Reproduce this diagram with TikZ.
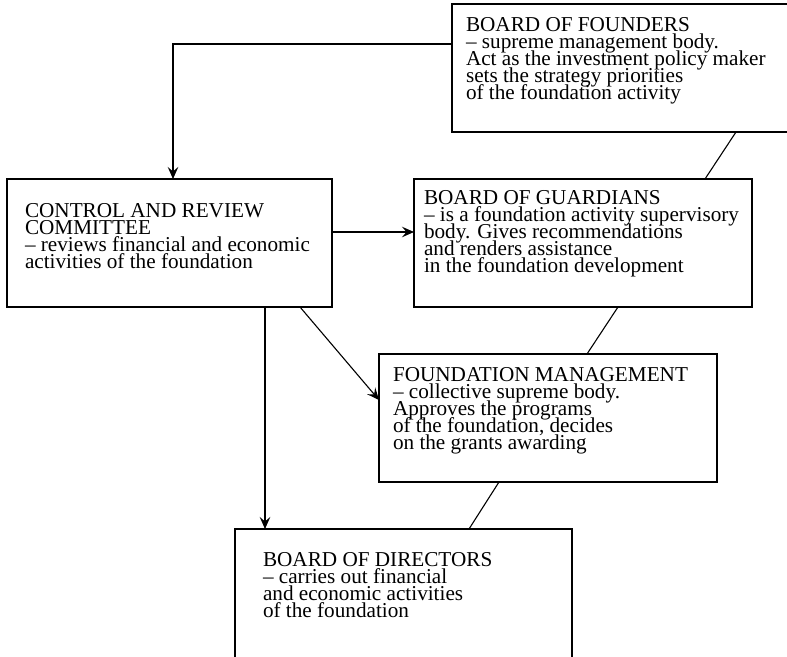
\documentclass[tikz,border=0pt]{standalone}
\usepackage{fontspec}
\setmainfont{Liberation Serif}
\usetikzlibrary{arrows.meta,calc}
\newcommand\boxtxtfont{\fontsize{21.2}{16.9}\selectfont\lineskiplimit=-100pt\relax}
\begin{document}
\begin{tikzpicture}[x=1pt,y=-1pt,
  box/.style={draw, line width=1.1pt, rectangle, anchor=north west, inner sep=0pt, outer sep=0pt, minimum height=128pt},
  txt/.style={anchor=north west, align=left, inner sep=0pt, outer sep=0pt, font=\boxtxtfont},
  conn/.style={line width=1.1pt},
  arr/.style={conn, -{Stealth[length=12pt,width=10.5pt,inset=4.5pt]}}]
\useasboundingbox (0,0) rectangle (787,656);
\node[box, minimum width=345pt] (fnd) at (452,4) {};
\node[box, minimum width=325pt] (ctrl) at (7,179) {};
\node[box, minimum width=338pt] (guard) at (414,179) {};
\node[box, minimum width=338pt] (mgmt) at (379,354) {};
\node[box, minimum width=337pt, minimum height=145pt] (dirs) at (235,529) {};
\node[txt] (fndT) at (466,17.7) {BOARD OF FOUNDERS\\– supreme management body.\\Act as the investment policy maker\\sets the strategy priorities\\of the foundation activity};
\node[txt] (ctrlT) at (25,203.7) {CONTROL AND REVIEW\\COMMITTEE\\– reviews financial and economic\\activities of the foundation};
\node[txt] (guardT) at (424,190.7) {BOARD OF GUARDIANS\\– is a foundation activity supervisory\\body. Gives recommendations\\and renders assistance\\in the foundation development};
\node[txt] (mgmtT) at (393,367.7) {FOUNDATION MANAGEMENT\\– collective supreme body.\\Approves the programs\\of the foundation, decides\\on the grants awarding};
\node[txt] (dirsT) at (263,552.7) {BOARD OF DIRECTORS\\– carries out financial\\and economic activities\\of the foundation};
\draw[arr] ($(fnd.north west)+(0,40)$) -| ($(ctrl.north west)+(166,0)$);
\draw[arr] ($(ctrl.north east)+(0,53)$) -- ($(guard.north west)+(0,53)$);
\draw[arr] ($(ctrl.south west)+(258,0)$) -- ($(dirs.north west)+(30,0)$);
\draw[arr] ($(ctrl.south west)+(293,0)$) -- ($(mgmt.north west)+(0,46)$);
\draw[conn] ($(fnd.south west)+(284,0)$) -- ($(guard.north west)+(291,0)$);
\draw[conn] ($(guard.south west)+(204,0)$) -- ($(mgmt.north west)+(208,0)$);
\draw[conn] ($(mgmt.south west)+(120,0)$) -- ($(dirs.north west)+(234,0)$);
\end{tikzpicture}
\end{document}
